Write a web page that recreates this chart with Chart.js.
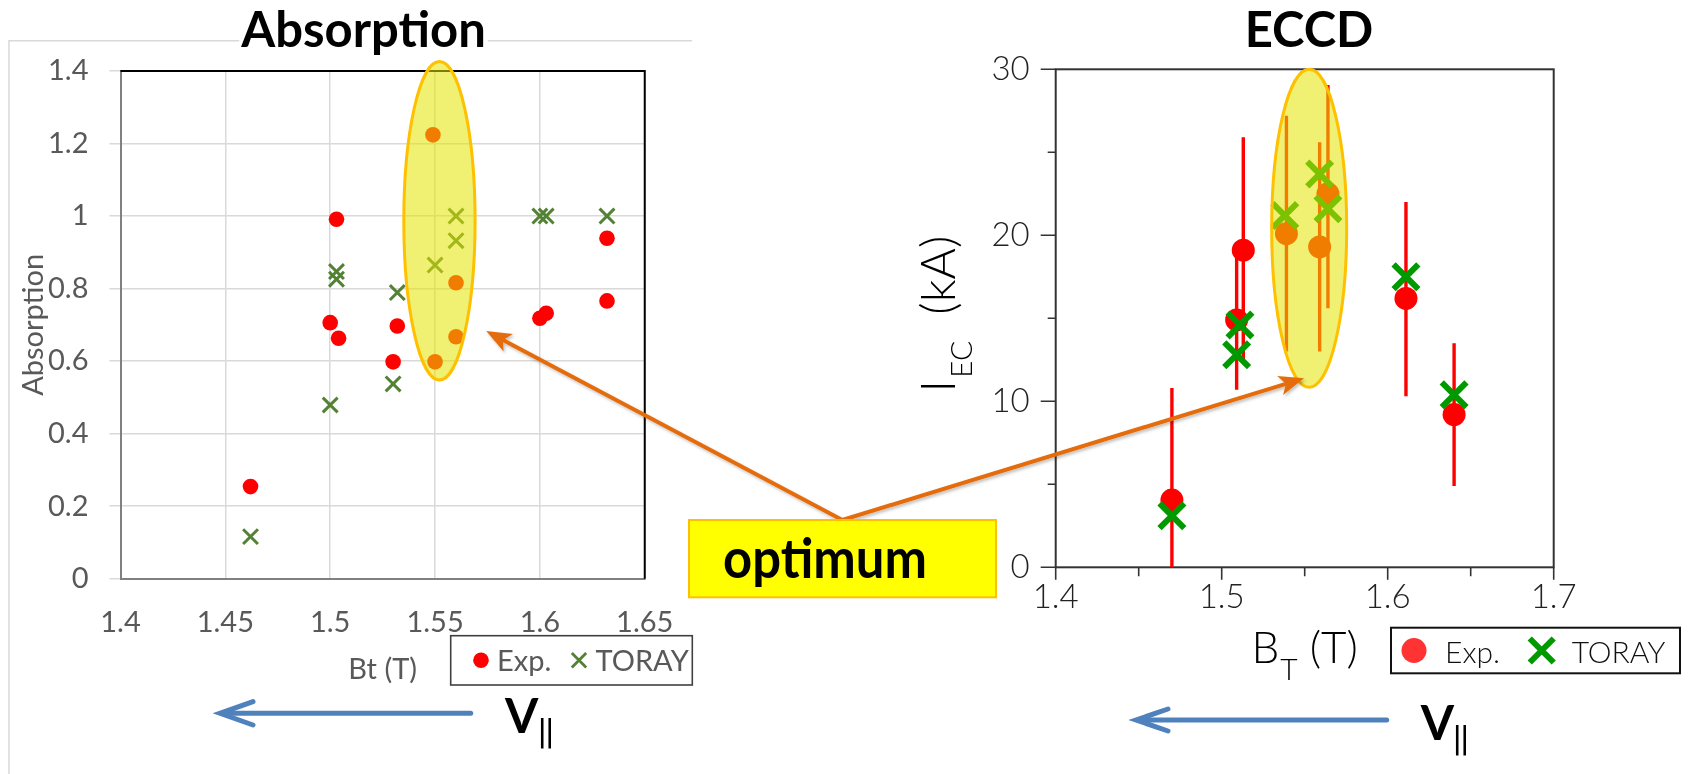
<!DOCTYPE html>
<html>
<head>
<meta charset="utf-8">
<title>Absorption and ECCD vs toroidal field</title>
<script src="https://cdn.jsdelivr.net/npm/chart.js@4.4.1/dist/chart.umd.min.js"></script>
<style>
  html, body { margin: 0; padding: 0; background: #fff; }
  #page { position: relative; width: 1693px; height: 774px; overflow: hidden; background: #fff; }
  .panel { position: absolute; top: 0; }
  #ov { position: absolute; left: 0; top: 0; }
</style>
</head>
<body>
<div id="page">
  <div class="panel" style="left:0;width:700px;height:774px"><canvas id="absChart" width="700" height="774"></canvas></div>
  <div class="panel" style="left:880px;width:813px;height:774px"><canvas id="eccdChart" width="813" height="774"></canvas></div>
  <svg id="ov" width="1693" height="774" xmlns="http://www.w3.org/2000/svg">
    <defs>
      <filter id="soft" x="-10%" y="-10%" width="120%" height="130%">
        <feDropShadow dx="1.5" dy="2" stdDeviation="1.5" flood-color="#000" flood-opacity="0.25"/>
      </filter>
    </defs>
    <!-- direction of parallel velocity, under each panel -->
    <g stroke="#4F81BD" stroke-width="5" fill="none" stroke-linecap="round" stroke-linejoin="miter">
      <line x1="470.7" y1="713.3" x2="223" y2="713.3"/>
      <polyline points="253,701.6 220,713.3 253,725"/>
      <line x1="1386.7" y1="720" x2="1139" y2="720"/>
      <polyline points="1168,709 1136,720 1168,731"/>
    </g>
    <g font-family="Lato, 'Noto Sans', sans-serif" fill="#000">
      <text x="505" y="733" font-size="48" font-weight="bold">V<tspan x="537" y="741" font-size="31" font-weight="normal" font-family="'DejaVu Sans', sans-serif" letter-spacing="-3">||</tspan></text>
      <text x="1420.7" y="740" font-size="48" font-weight="bold">V<tspan x="1452" y="748" font-size="31" font-weight="normal" font-family="'DejaVu Sans', sans-serif" letter-spacing="-3">||</tspan></text>
    </g>
    <g id="callout" filter="url(#soft)"></g>
    <rect x="689" y="520" width="307" height="77.3" fill="#FFFF00" stroke="#FFC000" stroke-width="2"/>
    <text x="723" y="578" font-family="Lato, 'Noto Sans', sans-serif" font-weight="bold" font-size="55"
          textLength="204" lengthAdjust="spacingAndGlyphs" fill="#000">optimum</text>
  </svg>
</div>
<script>
// ---------------- Absorption panel ----------------
const absExpBt  = [1.462, 1.500, 1.503, 1.504, 1.530, 1.532, 1.549, 1.550, 1.560, 1.560, 1.600, 1.603, 1.632, 1.632];
const absExpVal = [0.254, 0.706, 0.991, 0.663, 0.598, 0.697, 1.224, 0.598, 0.816, 0.667, 0.718, 0.732, 0.939, 0.766];
const absTorBt  = [1.462, 1.500, 1.503, 1.503, 1.530, 1.532, 1.550, 1.560, 1.560, 1.600, 1.603, 1.632];
const absTorVal = [0.116, 0.479, 0.847, 0.826, 0.537, 0.789, 0.865, 1.000, 0.932, 1.000, 1.000, 1.000];
const absX = [1.4, 1.65, 0.05];   // min, max, step
const absY = [0, 1.4, 0.2];

// ---------------- ECCD panel ----------------
const eccdExpBt  = [1.470, 1.509, 1.513, 1.539, 1.559, 1.564, 1.611, 1.640];
const eccdExpVal = [4.05, 14.9, 19.1, 20.1, 19.3, 22.5, 16.2, 9.2];
const eccdExpLo  = [-2.7, 10.7, 12.3, 13.0, 13.0, 15.6, 10.3, 4.9];
const eccdExpHi  = [10.8, 19.2, 25.9, 27.2, 25.6, 29.05, 22.0, 13.5];
const eccdTorBt  = [1.470, 1.509, 1.511, 1.538, 1.559, 1.564, 1.611, 1.640];
const eccdTorVal = [3.1, 12.8, 14.6, 21.2, 23.7, 21.6, 17.5, 10.4];
const eccdX = [1.4, 1.7, 0.05];
const eccdY = [0, 30, 5];

// optimum window: centre Bt, centre value, half-width in Bt, half-height in value
const absOptimum  = [1.5521, 0.987, 0.0170, 0.439];
const eccdOptimum = [1.5527, 20.42, 0.0226, 9.58];
// where the callout arrows end, in each panel's data units
const absArrowTip  = [1.5744, 0.683];
const eccdArrowTip = [1.5496, 11.39];

const legendLabels = ['Exp.', 'TORAY'];

const SANS = "Lato, 'Noto Sans', 'Liberation Sans', sans-serif";
Chart.defaults.font.family = SANS;

const pts = (xs, ys) => xs.map((x, i) => ({ x, y: ys[i] }));
const numLabel = v => String(+Number(v).toFixed(3));

function drawOptimum(chart, e, lw) {
  const { ctx, scales: { x, y } } = chart;
  const cx = x.getPixelForValue(e[0]), cy = y.getPixelForValue(e[1]);
  const rx = Math.abs(x.getPixelForValue(e[0] + e[2]) - cx);
  const ry = Math.abs(y.getPixelForValue(e[1] + e[3]) - cy);
  ctx.save();
  ctx.beginPath();
  ctx.ellipse(cx, cy, rx, ry, 0, 0, Math.PI * 2);
  ctx.fillStyle = 'rgba(228,228,0,0.55)';
  ctx.fill();
  ctx.strokeStyle = '#FFC000';
  ctx.lineWidth = lw;
  ctx.stroke();
  ctx.restore();
}

function cross(ctx, x, y, h, lw, color) {
  ctx.save();
  ctx.strokeStyle = color; ctx.lineWidth = lw;
  ctx.beginPath();
  ctx.moveTo(x - h, y - h); ctx.lineTo(x + h, y + h);
  ctx.moveTo(x + h, y - h); ctx.lineTo(x - h, y + h);
  ctx.stroke();
  ctx.restore();
}
function dot(ctx, x, y, r, color) {
  ctx.save(); ctx.fillStyle = color;
  ctx.beginPath(); ctx.arc(x, y, r, 0, Math.PI * 2); ctx.fill();
  ctx.restore();
}

// ---- decorations of the absorption panel (spreadsheet style) ----
const absDecor = {
  id: 'absDecor',
  beforeDraw(chart) {
    const ctx = chart.ctx;
    ctx.save();
    ctx.strokeStyle = '#D9D9D9'; ctx.lineWidth = 1.5;
    ctx.beginPath(); ctx.moveTo(9, 774); ctx.lineTo(9, 40.7); ctx.lineTo(692, 40.7); ctx.stroke();
    ctx.restore();
  },
  beforeDatasetsDraw(chart) {
    const { ctx, chartArea: a } = chart;
    ctx.save();
    ctx.strokeStyle = '#000'; ctx.lineWidth = 2;
    ctx.beginPath(); ctx.moveTo(a.left, a.top); ctx.lineTo(a.right, a.top); ctx.lineTo(a.right, a.bottom); ctx.stroke();
    ctx.restore();
  },
  afterDatasetsDraw(chart) { drawOptimum(chart, absOptimum, 3); },
  afterDraw(chart) {
    const { ctx, chartArea: a } = chart;
    ctx.save();
    // title over the frame line
    ctx.font = 'bold 49px ' + SANS;
    const tw = ctx.measureText('Absorption').width;
    ctx.fillStyle = '#fff'; ctx.fillRect(363.5 - tw / 2 - 2, 37, tw + 4, 8);
    ctx.fillStyle = '#000'; ctx.textAlign = 'center'; ctx.textBaseline = 'alphabetic';
    ctx.fillText('Absorption', 363.5, 46.7);
    // axis titles
    ctx.font = '29px ' + SANS; ctx.fillStyle = '#595959';
    ctx.fillText('Bt (T)', (a.left + a.right) / 2, 679);
    ctx.save();
    ctx.translate(34, (a.top + a.bottom) / 2); ctx.rotate(-Math.PI / 2);
    ctx.textBaseline = 'middle'; ctx.fillText('Absorption', 0, 0);
    ctx.restore();
    // legend
    ctx.strokeStyle = '#404040'; ctx.lineWidth = 1.6;
    ctx.strokeRect(450.7, 635.7, 241.6, 49.3);
    dot(ctx, 481, 660.3, 7.8, '#FF0000');
    cross(ctx, 579, 660.3, 7.2, 2.8, '#548235');
    ctx.textAlign = 'left'; ctx.textBaseline = 'alphabetic'; ctx.fillStyle = '#595959';
    ctx.fillText(legendLabels[0], 497, 670.5);
    ctx.fillText(legendLabels[1], 595.5, 670.5);
    ctx.restore();
  }
};

// ---- decorations of the ECCD panel (plot-program style) ----
const eccdDecor = {
  id: 'eccdDecor',
  beforeDatasetsDraw(chart) {
    const { ctx, chartArea: a, scales: { x, y } } = chart;
    ctx.save();
    ctx.strokeStyle = '#333'; ctx.lineWidth = 2;
    ctx.strokeRect(a.left, a.top, a.right - a.left, a.bottom - a.top);
    ctx.lineWidth = 1.6;
    ctx.beginPath();
    y.ticks.forEach(t => {
      const p = y.getPixelForValue(t.value);
      const len = Math.round(t.value) % 10 === 0 ? 15 : 8;
      ctx.moveTo(a.left - len, p); ctx.lineTo(a.left, p);
    });
    x.ticks.forEach(t => {
      const p = x.getPixelForValue(t.value);
      const len = Math.round(t.value * 100) % 10 === 0 ? 12.5 : 9;
      ctx.moveTo(p, a.bottom); ctx.lineTo(p, a.bottom + len);
    });
    ctx.stroke();
    // experimental error bars
    ctx.beginPath(); ctx.rect(a.left, a.top, a.right - a.left, a.bottom - a.top); ctx.clip();
    ctx.strokeStyle = '#FF0000'; ctx.lineWidth = 3.4;
    ctx.beginPath();
    eccdExpBt.forEach((b, i) => {
      const px = x.getPixelForValue(b);
      ctx.moveTo(px, y.getPixelForValue(eccdExpLo[i]));
      ctx.lineTo(px, y.getPixelForValue(eccdExpHi[i]));
    });
    ctx.stroke();
    ctx.restore();
  },
  afterDatasetsDraw(chart) { drawOptimum(chart, eccdOptimum, 3); },
  afterDraw(chart) {
    const { ctx, chartArea: a } = chart;
    ctx.save();
    ctx.fillStyle = '#000'; ctx.textBaseline = 'alphabetic';
    ctx.font = 'bold 49px ' + SANS; ctx.textAlign = 'center';
    ctx.fillText('ECCD', 429, 47);
    ctx.textAlign = 'left';
    // x title: B_T (T)
    const big = '300 44px ' + SANS, sub = '300 30px ' + SANS;
    ctx.font = big; const wB = ctx.measureText('B').width, wP = ctx.measureText(' (T)').width;
    ctx.font = sub; const wT = ctx.measureText('T').width;
    let x0 = (a.left + a.right) / 2 - (wB + wT + wP + 1) / 2;
    ctx.font = big; ctx.fillText('B', x0, 663);
    ctx.font = sub; ctx.fillText('T', x0 + wB + 1, 680);
    ctx.font = big; ctx.fillText(' (T)', x0 + wB + 1 + wT, 663);
    // y title: I_EC (kA), rotated
    const bigY = '300 48px ' + SANS;
    ctx.font = bigY; const wI = ctx.measureText('I').width, wK = ctx.measureText('  (kA)').width;
    ctx.font = sub; const wE = ctx.measureText('EC').width;
    const tot = wI + 2 + wE + wK;
    ctx.save();
    ctx.translate(75, 314 + tot / 2); ctx.rotate(-Math.PI / 2);
    ctx.font = bigY; ctx.fillText('I', 0, 0);
    ctx.font = sub; ctx.fillText('EC', wI + 2, 17);
    ctx.font = bigY; ctx.fillText('  (kA)', wI + 2 + wE, 0);
    ctx.restore();
    // legend
    ctx.strokeStyle = '#111'; ctx.lineWidth = 2;
    ctx.strokeRect(511, 627.7, 289, 45.6);
    dot(ctx, 534, 650.5, 12.5, '#FF3333');
    cross(ctx, 661.7, 650.5, 12, 6, '#009900');
    ctx.font = '300 30px ' + SANS; ctx.fillStyle = '#111';
    ctx.fillText(legendLabels[0], 565, 663.3);
    ctx.fillText(legendLabels[1], 691.7, 663.3);
    ctx.restore();
  }
};

const common = {
  responsive: false, animation: false, events: [],
  plugins: { legend: { display: false }, tooltip: { enabled: false }, title: { display: false } }
};

const absChart = new Chart(document.getElementById('absChart'), {
  type: 'scatter',
  data: {
    datasets: [
      { label: legendLabels[1], data: pts(absTorBt, absTorVal), pointStyle: 'crossRot', pointRadius: 10.5,
        pointBorderColor: '#548235', pointBackgroundColor: '#548235', pointBorderWidth: 3 },
      { label: legendLabels[0], data: pts(absExpBt, absExpVal), pointStyle: 'circle', pointRadius: 7.8,
        pointBackgroundColor: '#FF0000', pointBorderWidth: 0 }
    ]
  },
  options: {
    ...common,
    layout: { padding: { left: 0, top: 71, right: 47, bottom: 0 } },
    scales: {
      x: {
        type: 'linear', min: absX[0], max: absX[1],
        ticks: { stepSize: absX[2], callback: numLabel, color: '#595959', font: { size: 29 }, padding: 26.6, maxRotation: 0, autoSkip: false },
        grid: { color: '#D9D9D9', lineWidth: 1.5, drawTicks: false },
        border: { color: '#808080', width: 2 },
        afterFit(s) { s.height = 195.3; }
      },
      y: {
        type: 'linear', min: absY[0], max: absY[1],
        ticks: { stepSize: absY[2], callback: numLabel, color: '#595959', font: { size: 29 }, padding: 21 },
        grid: { color: '#D9D9D9', lineWidth: 1.5, drawTicks: true, tickLength: 11 },
        border: { color: '#808080', width: 2 },
        afterFit(s) { s.width = 120.5; }
      }
    }
  },
  plugins: [absDecor]
});

const eccdChart = new Chart(document.getElementById('eccdChart'), {
  type: 'scatter',
  data: {
    datasets: [
      { label: legendLabels[1], data: pts(eccdTorBt, eccdTorVal), pointStyle: 'crossRot', pointRadius: 17.5,
        pointBorderColor: '#009900', pointBackgroundColor: '#009900', pointBorderWidth: 6 },
      { label: legendLabels[0], data: pts(eccdExpBt, eccdExpVal), pointStyle: 'circle', pointRadius: 11.5,
        pointBackgroundColor: '#FF0000', pointBorderWidth: 0 }
    ]
  },
  options: {
    ...common,
    layout: { padding: { left: 0, top: 69.3, right: 139.3, bottom: 0 } },
    scales: {
      x: {
        type: 'linear', min: eccdX[0], max: eccdX[1],
        ticks: { stepSize: eccdX[2], color: '#222', font: { size: 33, weight: 300 }, padding: 10.5, maxRotation: 0, autoSkip: false,
                 callback: v => (Math.round(v * 100) % 10 === 0 ? numLabel(v) : '') },
        grid: { display: false, drawTicks: false },
        border: { display: false },
        afterFit(s) { s.height = 206.7; }
      },
      y: {
        type: 'linear', min: eccdY[0], max: eccdY[1],
        ticks: { stepSize: eccdY[2], color: '#222', font: { size: 33, weight: 300 }, padding: 26,
                 callback: v => (Math.round(v) % 10 === 0 ? numLabel(v) : '') },
        grid: { display: false, drawTicks: false },
        border: { display: false },
        afterFit(s) { s.width = 175.7; }
      }
    }
  },
  plugins: [eccdDecor]
});

// ---- "optimum" callout arrows, ending next to each optimum window ----
(function drawCallout() {
  const NS = 'http://www.w3.org/2000/svg';
  const g = document.getElementById('callout');
  const start = { x: 842.3, y: 520 };
  const tips = [
    { x: absChart.scales.x.getPixelForValue(absArrowTip[0]), y: absChart.scales.y.getPixelForValue(absArrowTip[1]) },
    { x: 880 + eccdChart.scales.x.getPixelForValue(eccdArrowTip[0]), y: eccdChart.scales.y.getPixelForValue(eccdArrowTip[1]) }
  ];
  tips.forEach(t => {
    const dx = t.x - start.x, dy = t.y - start.y, L = Math.hypot(dx, dy);
    const ux = dx / L, uy = dy / L, nx = -uy, ny = ux;
    const len = 25, half = 10, notch = 19;
    const line = document.createElementNS(NS, 'line');
    line.setAttribute('x1', start.x); line.setAttribute('y1', start.y);
    line.setAttribute('x2', t.x - ux * notch); line.setAttribute('y2', t.y - uy * notch);
    line.setAttribute('stroke', '#E46C0A'); line.setAttribute('stroke-width', '4');
    g.appendChild(line);
    const bx = t.x - ux * len, by = t.y - uy * len;
    const head = document.createElementNS(NS, 'polygon');
    head.setAttribute('points', [
      [t.x, t.y], [bx + nx * half, by + ny * half], [t.x - ux * notch, t.y - uy * notch], [bx - nx * half, by - ny * half]
    ].map(p => p[0].toFixed(1) + ',' + p[1].toFixed(1)).join(' '));
    head.setAttribute('fill', '#E46C0A');
    g.appendChild(head);
  });
})();
</script>
</body>
</html>
